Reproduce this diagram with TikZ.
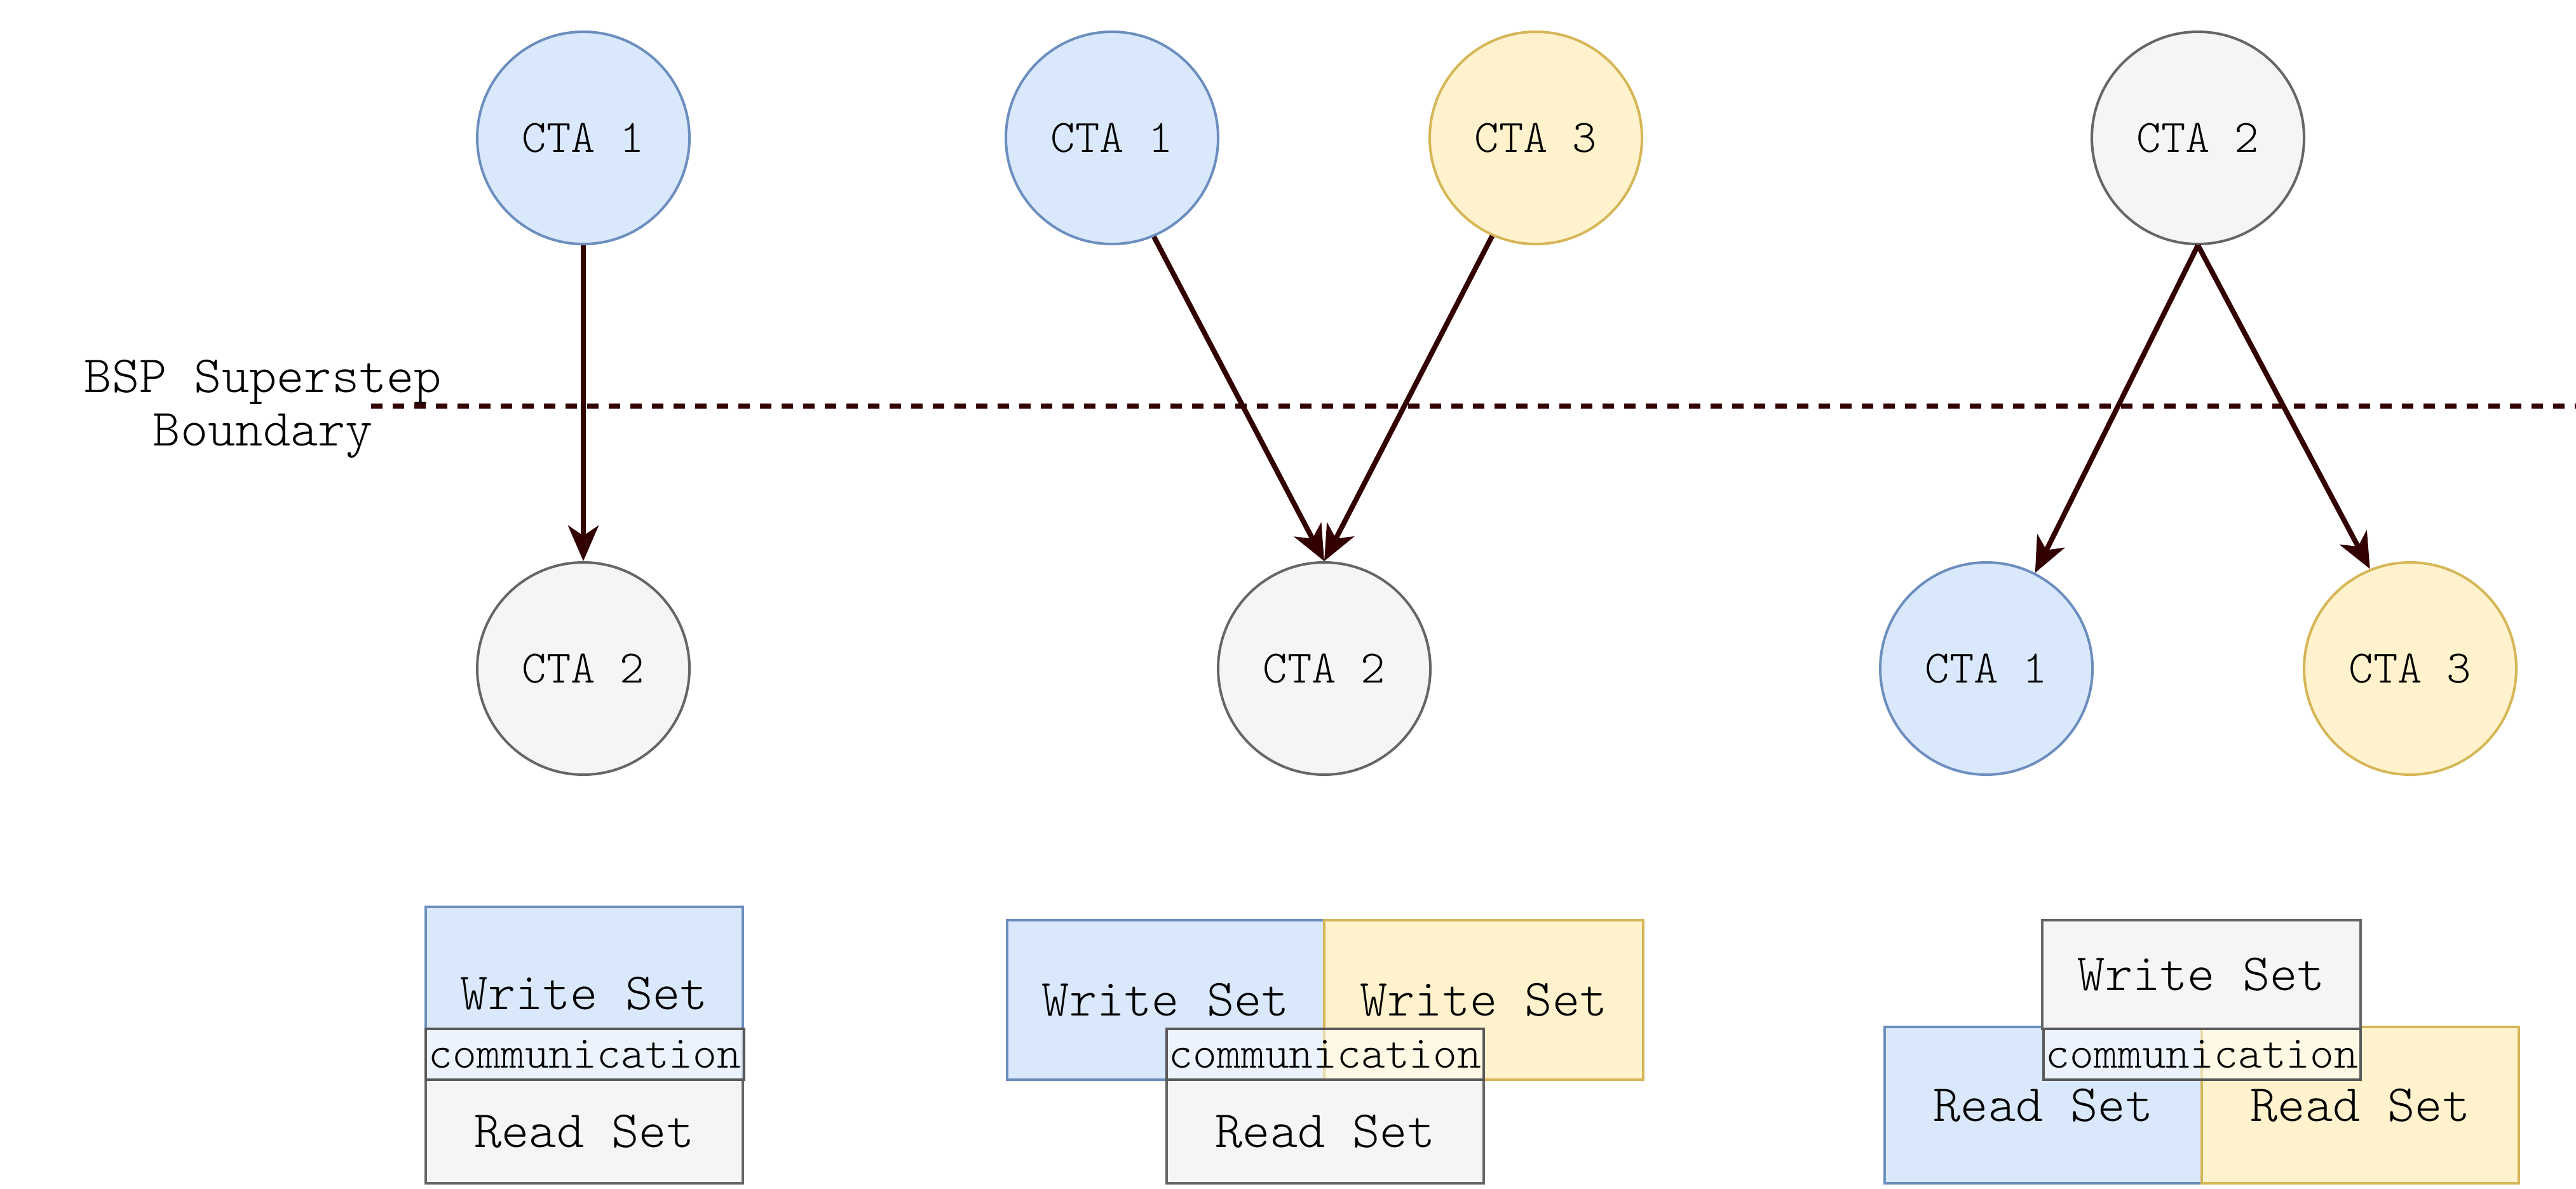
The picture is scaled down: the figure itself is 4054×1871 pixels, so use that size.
\documentclass[tikz,border=0pt]{standalone}
\usepackage{fontspec}
\newfontfamily\lightmono{Latin Modern Mono Light}
\usetikzlibrary{arrows.meta}
\definecolor{bfill}{HTML}{DAE8FC}
\definecolor{bline}{HTML}{6C8EBF}
\definecolor{yfill}{HTML}{FFF2CC}
\definecolor{yline}{HTML}{D6B656}
\definecolor{gfill}{HTML}{F5F5F5}
\definecolor{gline}{HTML}{666666}
\definecolor{arr}{HTML}{330000}
\tikzset{
  cta/.style={circle, minimum size=83.5pt, inner sep=0pt, line width=1pt, font=\lightmono\fontsize{18.3pt}{20pt}\selectfont},
  ctab/.style={cta, fill=bfill, draw=bline},
  ctay/.style={cta, fill=yfill, draw=yline},
  ctag/.style={cta, fill=gfill, draw=gline},
  setbox/.style={rectangle, inner sep=0pt, line width=1pt, font=\lightmono\fontsize{20.6pt}{22pt}\selectfont},
  sb/.style={setbox, fill=bfill, draw=bline},
  sy/.style={setbox, fill=yfill, draw=yline},
  sg/.style={setbox, fill=gfill, draw=gline},
  comm/.style={rectangle, inner sep=0pt, line width=1pt, fill=white, fill opacity=0.5, text opacity=1, draw=black!65, draw opacity=1, font=\lightmono\fontsize{18pt}{20pt}\selectfont, minimum height=20pt},
  link/.style={draw=arr, line width=2pt, -{Stealth[length=14pt, width=12pt, inset=4pt]}},
}
\begin{document}
\begin{tikzpicture}[x=0.25pt, y=-0.25pt]
\useasboundingbox (0,0) rectangle (4054,1871);
% boundary
\node[align=center, font=\lightmono\fontsize{20.6pt}{21pt}\selectfont] (bsp) at (414,644) {BSP Superstep\\Boundary};
\coordinate (dl) at (584,639);
\coordinate (dr) at (4054,639);
\draw[arr, line width=2pt, dash pattern=on 4.5pt off 4pt] (dl) -- (dr);
% left
\node[ctab] (a1) at (918,217) {CTA 1};
\node[ctag] (a2) at (918,1052) {CTA 2};
\draw[link] (a1.south) -- (a2.north);
% middle
\node[ctab] (b1) at (1750,217) {CTA 1};
\node[ctay] (b3) at (2417,217) {CTA 3};
\node[ctag] (b2) at (2084,1052) {CTA 2};
\draw[link] (b1.-67) -- (b2.north);
\draw[link] (b3.-114) -- (b2.north);
% right
\node[ctag] (c2) at (3459,217) {CTA 2};
\node[ctab] (c1) at (3126,1052) {CTA 1};
\node[ctay] (c3) at (3793,1052) {CTA 3};
\draw[link] (c2.south) -- (c1.63);
\draw[link] (c2.south) -- (c3.112);
% left sets
\node[sb, minimum width=124.75pt, minimum height=68pt] (lw) at (919.5,1563) {Write Set};
\node[sg, minimum width=124.75pt, minimum height=40.75pt] (lr) at (919.5,1780.5) {Read Set};
\node[comm, minimum width=125.25pt] (lc) at (920.5,1659) {communication};
% middle sets
\node[sb, minimum width=124.75pt, minimum height=62.75pt] (mw1) at (1834.5,1573.5) {Write Set};
\node[sy, minimum width=125.5pt, minimum height=62.75pt] (mw3) at (2335,1573.5) {Write Set};
\node[sg, minimum width=124.75pt, minimum height=40.75pt] (mr) at (2085.5,1780.5) {Read Set};
\node[comm, minimum width=124.75pt] (mc) at (2085.5,1659) {communication};
% right sets
\node[sb, minimum width=124.75pt, minimum height=61.5pt] (rr1) at (3215.5,1739) {Read Set};
\node[sy, minimum width=124.75pt, minimum height=61.5pt] (rr3) at (3714.5,1739) {Read Set};
\node[sg, minimum width=125.25pt, minimum height=42.75pt] (rw) at (3464.5,1533.5) {Write Set};
\node[comm, minimum width=124.75pt] (rc) at (3465.5,1659) {communication};
\end{tikzpicture}
\end{document}
